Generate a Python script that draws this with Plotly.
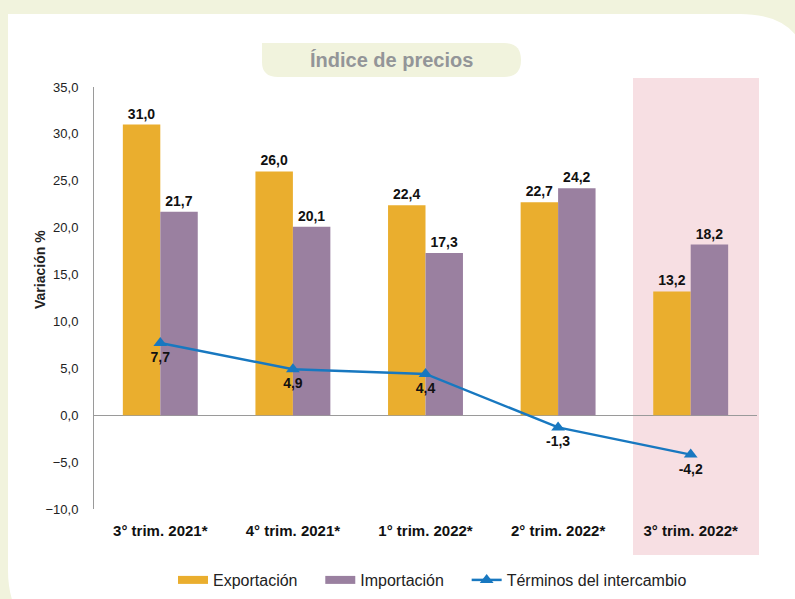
import plotly.graph_objects as go

categories = ["3° trim. 2021*", "4° trim. 2021*", "1° trim. 2022*", "2° trim. 2022*", "3° trim. 2022*"]
exportacion = [31.0, 26.0, 22.4, 22.7, 13.2]
importacion = [21.7, 20.1, 17.3, 24.2, 18.2]
terminos = [7.7, 4.9, 4.4, -1.3, -4.2]

W, H = 795, 599
L, R, T, B = 94, 38, 87, 90
PW, PH = W - L - R, H - T - B

def px(x):
    return (x - L) / PW

def py(y):
    return (H - B - y) / PH

FONT = "Liberation Sans, Arial, Helvetica, sans-serif"
EXP_C, IMP_C, LINE_C = "#EAAE2E", "#9A80A0", "#1878C0"
PAD = "\u00a0" * 4

fig = go.Figure()
fig.add_trace(go.Bar(
    name="Exportación", x=categories, y=exportacion, legendgroup="exp", showlegend=False,
    marker=dict(color=EXP_C, line=dict(width=0)),
    texttemplate="<b>%{y:.1f}</b>", textposition="outside",
    textfont=dict(family=FONT, size=14, color="#111111"), cliponaxis=False,
))
fig.add_trace(go.Bar(
    name="Importación", x=categories, y=importacion, legendgroup="imp", showlegend=False,
    marker=dict(color=IMP_C, line=dict(width=0)),
    texttemplate="<b>%{y:.1f}</b>", textposition="outside",
    textfont=dict(family=FONT, size=14, color="#111111"), cliponaxis=False,
))
fig.add_trace(go.Scatter(
    name="Términos del intercambio", x=categories, y=terminos, legendgroup="ter",
    mode="lines+markers+text", legendrank=3,
    line=dict(color=LINE_C, width=2.5),
    marker=dict(symbol="triangle-up", size=12, color=LINE_C),
    texttemplate="<b>%{y:.1f}</b>", textposition="bottom center",
    textfont=dict(family=FONT, size=14, color="#111111"), cliponaxis=False,
))
# legend entries drawn as wide rectangles like the reference
fig.add_trace(go.Scatter(name="Exportación" + PAD, x=[None], y=[None], mode="lines",
                         line=dict(color=EXP_C, width=8), legendgroup="exp", legendrank=1))
fig.add_trace(go.Scatter(name="Importación" + PAD, x=[None], y=[None], mode="lines",
                         line=dict(color=IMP_C, width=8), legendgroup="imp", legendrank=2))

panel = (
    f"M {px(8)},{py(14)} "
    f"L {px(740)},{py(14)} "
    f"Q {px(810)},{py(14)} {px(810)},{py(84)} "
    f"L {px(810)},{py(640)} "
    f"L {px(78)},{py(640)} "
    f"Q {px(8)},{py(640)} {px(8)},{py(570)} Z"
)
pill = (
    f"M {px(262)},{py(43)} "
    f"L {px(504)},{py(43)} "
    f"Q {px(521)},{py(43)} {px(521)},{py(60)} "
    f"Q {px(521)},{py(77)} {px(504)},{py(77)} "
    f"L {px(278)},{py(77)} "
    f"Q {px(262)},{py(77)} {px(262)},{py(62)} Z"
)
shapes = [
    dict(type="path", xref="paper", yref="paper", path=panel,
         fillcolor="#FFFFFF", line=dict(width=0), layer="below"),
    dict(type="path", xref="paper", yref="paper", path=pill,
         fillcolor="#F1F3DD", line=dict(width=0), layer="below"),
    dict(type="rect", xref="paper", yref="paper",
         x0=px(633), x1=px(759), y0=py(555), y1=py(78),
         fillcolor="#F7DFE3", line=dict(width=0), layer="below"),
]

fig.update_layout(
    width=W, height=H,
    margin=dict(l=L, r=R, t=T, b=B, autoexpand=False),
    paper_bgcolor="#F1F3DD",
    plot_bgcolor="rgba(0,0,0,0)",
    separators=",.",
    barmode="group",
    bargap=0.435,
    bargroupgap=0,
    shapes=shapes,
    showlegend=True,
    legend=dict(orientation="h", x=px(173), xanchor="left", y=py(580), yanchor="middle",
                font=dict(family=FONT, size=16, color="#222222"),
                bgcolor="rgba(0,0,0,0)", traceorder="normal"),
    annotations=[
        dict(text="<b>Índice de precios</b>", xref="paper", yref="paper",
             x=px(391), y=py(60), showarrow=False, xanchor="center", yanchor="middle",
             font=dict(family=FONT, size=20, color="#939598")),
        dict(text="<b>Variación %</b>", xref="paper", yref="paper", textangle=-90,
             x=px(40), y=py(270), showarrow=False, xanchor="center", yanchor="middle",
             font=dict(family=FONT, size=14, color="#222222")),
    ],
    font=dict(family=FONT, color="#222222"),
)
fig.update_xaxes(
    automargin=False,
    showgrid=False, showline=False, zeroline=False,
    ticks="outside", ticklen=8, tickcolor="rgba(0,0,0,0)",
    tickfont=dict(family=FONT, size=15, color="#111111"),
    tickprefix="<b>", ticksuffix="</b>",
)
fig.update_yaxes(
    automargin=False,
    range=[-10, 35], dtick=5, tickformat=".1f",
    showgrid=False, showline=True, linecolor="#9A9A9A", linewidth=1,
    zeroline=True, zerolinecolor="#9A9A9A", zerolinewidth=1,
    ticks="outside", ticklen=12, tickcolor="rgba(0,0,0,0)",
    tickfont=dict(family=FONT, size=13, color="#222222"),
)

fig.write_html("out.html", config={"displayModeBar": False},
               post_script="document.body.style.margin='0';document.body.style.overflow='hidden';")
